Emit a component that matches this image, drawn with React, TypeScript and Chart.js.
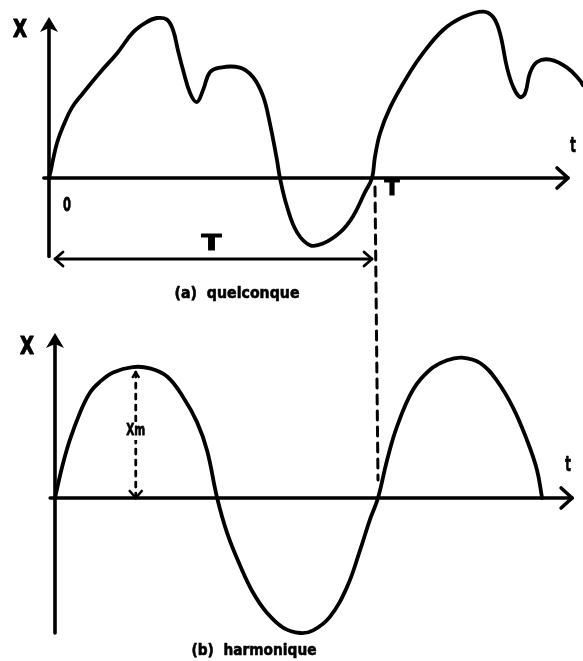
import React, { useEffect, useRef } from "react";
import { Chart, registerables } from "chart.js";

Chart.register(...registerables);

// Time is expressed in periods (t / T), amplitude in arbitrary units.
// (a) arbitrary periodic signal
const generalTime = [
  0, 0.006, 0.012, 0.025, 0.043, 0.071, 0.105, 0.158, 0.211, 0.26, 0.303, 0.334,
  0.365, 0.384, 0.399, 0.415, 0.437, 0.458, 0.477, 0.498, 0.529, 0.591, 0.632,
  0.663, 0.684, 0.706, 0.715, 0.737, 0.768, 0.808, 0.848, 0.901, 0.941, 0.978,
  1.0, 1.009, 1.025, 1.056, 1.108, 1.158, 1.22, 1.282, 1.344, 1.375, 1.396, 1.418,
  1.437, 1.458, 1.474, 1.489, 1.511, 1.551, 1.604, 1.644, 1.653,
];
const generalValue = [
  0, 0.05, 0.11, 0.22, 0.32, 0.44, 0.53, 0.66, 0.78, 0.91, 0.975, 1.0,
  0.99, 0.925, 0.8, 0.675, 0.53, 0.475, 0.55, 0.66, 0.69, 0.69, 0.63,
  0.51, 0.34, 0.11, 0, -0.18, -0.34, -0.42, -0.41, -0.34, -0.24, -0.09,
  0, 0.13, 0.28, 0.44, 0.63, 0.78, 0.925, 1.006, 1.04, 1.006, 0.906, 0.69,
  0.57, 0.506, 0.53, 0.656, 0.725, 0.74, 0.69, 0.61, 0.58,
];

// (b) harmonic signal
const harmonicTime = [
  0, 0.022, 0.046, 0.077, 0.108, 0.139, 0.18, 0.241, 0.294, 0.347, 0.396, 0.44,
  0.471, 0.502, 0.533, 0.573, 0.613, 0.656, 0.706, 0.759, 0.799, 0.851, 0.904,
  0.944, 0.975, 1.0, 1.028, 1.059, 1.108, 1.161, 1.214, 1.26, 1.316, 1.368,
  1.418, 1.461, 1.492, 1.508,
];
const harmonicValue = [
  0, 0.23, 0.43, 0.63, 0.78, 0.86, 0.93, 0.97, 0.96, 0.9, 0.75, 0.56,
  0.35, 0, -0.26, -0.5, -0.7, -0.85, -0.96, -1.0, -0.98, -0.88, -0.66,
  -0.39, -0.16, 0, 0.28, 0.53, 0.8, 0.95, 1.02, 1.04, 1.0, 0.87,
  0.67, 0.43, 0.21, 0,
];

// amplitude Xm marked on the first crest, at a quarter period
const amplitudeXm = 0.97;
const amplitudeTime = 0.25;
const period = 1;

const timeMarks = ["0", "T"];
const axisNames = ["X", "t"];
const captions = ["(a)  quelconque", "(b)  harmonique"];
const amplitudeLabel = "Xm";

const W = 583;
const H = 661;
const INK = "#000";

// pixel frame of each panel: origin and pixels per unit
const TOP = { ox: 49, oy: 178, perT: 323, perUnit: 160 };
const BOT = { ox: 55, oy: 498, perT: 323, perUnit: 135 };

const xRange = (p: typeof TOP) => ({ min: -p.ox / p.perT, max: (W - p.ox) / p.perT });
const yRange = (p: typeof TOP) => ({ min: (p.oy - H) / p.perUnit, max: p.oy / p.perUnit });

function pts(ts: number[], vs: number[]) {
  return ts.map((t, i) => ({ x: t, y: vs[i] }));
}

// heavy lettering: filled glyph plus a thin outline, optionally squeezed to a width
function text(
  ctx: CanvasRenderingContext2D,
  s: string,
  x: number,
  y: number,
  font: string,
  width?: number,
  outline = 0
) {
  ctx.save();
  ctx.font = font;
  ctx.textAlign = "center";
  ctx.textBaseline = "middle";
  ctx.translate(x, y);
  if (width) {
    const m = ctx.measureText(s).width;
    ctx.scale(width / m, 1);
  }
  ctx.fillText(s, 0, 0);
  if (outline > 0) {
    ctx.lineWidth = outline;
    ctx.lineJoin = "round";
    ctx.strokeText(s, 0, 0);
  }
  ctx.restore();
}

function line(ctx: CanvasRenderingContext2D, x1: number, y1: number, x2: number, y2: number, w: number, dash: number[] = []) {
  ctx.save();
  ctx.lineWidth = w;
  ctx.setLineDash(dash);
  ctx.beginPath();
  ctx.moveTo(x1, y1);
  ctx.lineTo(x2, y2);
  ctx.stroke();
  ctx.restore();
}

// solid head pointing up
function headUp(ctx: CanvasRenderingContext2D, x: number, y: number) {
  ctx.beginPath();
  ctx.moveTo(x, y);
  ctx.lineTo(x + 9, y + 15);
  ctx.lineTo(x, y + 11);
  ctx.lineTo(x - 9, y + 15);
  ctx.closePath();
  ctx.fill();
}

// open chevron heads
function chevronX(ctx: CanvasRenderingContext2D, x: number, y: number, dir: number, back: number, half: number, w: number) {
  ctx.save();
  ctx.lineWidth = w;
  ctx.beginPath();
  ctx.moveTo(x - dir * back, y - half);
  ctx.lineTo(x, y);
  ctx.lineTo(x - dir * back, y + half);
  ctx.stroke();
  ctx.restore();
}
function chevronY(ctx: CanvasRenderingContext2D, x: number, y: number, dir: number, back: number, half: number, w: number) {
  ctx.save();
  ctx.lineWidth = w;
  ctx.beginPath();
  ctx.moveTo(x - half, y - dir * back);
  ctx.lineTo(x, y);
  ctx.lineTo(x + half, y - dir * back);
  ctx.stroke();
  ctx.restore();
}

const annotations = {
  id: "annotations",
  afterDatasetsDraw(chart: any) {
    const ctx: CanvasRenderingContext2D = chart.ctx;
    const { xT, yT, xB, yB } = chart.scales;
    ctx.save();
    ctx.strokeStyle = INK;
    ctx.fillStyle = INK;
    ctx.lineCap = "round";
    ctx.lineJoin = "round";

    // ---- panel (a) ----
    const ax0 = xT.getPixelForValue(0);
    const ay0 = yT.getPixelForValue(0);
    const aTipY = yT.getPixelForValue(1.006);
    const aBottom = yT.getPixelForValue(-0.49);
    line(ctx, ax0, aBottom, ax0, aTipY + 10, 3.6);
    headUp(ctx, ax0, aTipY);
    const aRight = xT.getPixelForValue(1.607);
    line(ctx, xT.getPixelForValue(-0.016), ay0, aRight, ay0, 3.6);
    chevronX(ctx, aRight, ay0, 1, 11, 10, 3.6);

    text(ctx, axisNames[0], ax0 - 29, aTipY + 14, "bold 24px 'DejaVu Sans'", 14, 1.2);
    text(ctx, axisNames[1], aRight + 5, ay0 - 32, "bold 22px 'DejaVu Sans'", 6, 0.6);
    text(ctx, timeMarks[0], ax0 + 18, ay0 + 28, "bold 19px 'DejaVu Sans'", 8, 0.8);
    const aT = xT.getPixelForValue(period);
    text(ctx, timeMarks[1], aT + 20, ay0 + 11, "bold 22px 'DejaVu Sans'", 15, 1);

    // period span T
    const spanY = ay0 + 81;
    line(ctx, ax0 + 6, spanY, aT, spanY, 2.8);
    chevronX(ctx, ax0 + 6, spanY, -1, 8, 7, 2.8);
    chevronX(ctx, aT, spanY, 1, 8, 7, 2.8);
    text(ctx, timeMarks[1], (ax0 + aT) / 2 + 1, spanY - 14, "bold 21px 'DejaVu Sans'", 20, 1);

    text(ctx, captions[0], 237, 294, "bold 15px 'DejaVu Sans'", 125, 0.6);

    // ---- panel (b) ----
    const bx0 = xB.getPixelForValue(0);
    const by0 = yB.getPixelForValue(0);
    const bTipY = yB.getPixelForValue(1.222);
    const bBottom = yB.getPixelForValue(-1.0);
    line(ctx, bx0, bBottom, bx0, bTipY + 10, 3.6);
    headUp(ctx, bx0, bTipY);
    const bRight = xB.getPixelForValue(1.601);
    line(ctx, xB.getPixelForValue(-0.015), by0, bRight, by0, 3.6);
    chevronX(ctx, bRight, by0, 1, 11, 10, 3.6);

    text(ctx, axisNames[0], bx0 - 28, bTipY + 15, "bold 24px 'DejaVu Sans'", 14, 1.2);
    text(ctx, axisNames[1], bRight - 4, by0 - 33, "bold 22px 'DejaVu Sans'", 6, 0.6);

    // amplitude Xm
    const mx = xB.getPixelForValue(amplitudeTime);
    const mTop = yB.getPixelForValue(amplitudeXm) + 5;
    line(ctx, mx, mTop, mx, by0, 2.8, [5, 6]);
    chevronY(ctx, mx, mTop, -1, 5, 3, 2.4);
    chevronY(ctx, mx, by0, 1, 7, 6, 2.6);
    const labelY = (mTop + by0) / 2 - 4;
    ctx.fillStyle = "#fff";
    ctx.fillRect(mx - 12, labelY - 9, 24, 18);
    ctx.fillStyle = INK;
    text(ctx, amplitudeLabel, mx, labelY, "bold 15px 'DejaVu Sans'", 19, 0.8);

    // the two periods coincide
    const bT = xB.getPixelForValue(period);
    line(ctx, aT + 3, ay0 + 9, bT, by0 - 18, 3, [9, 7]);

    text(ctx, captions[1], 254, 651, "bold 15px 'DejaVu Sans'", 125, 0.6);

    ctx.restore();
  },
};

export default function App() {
  const ref = useRef<HTMLCanvasElement | null>(null);

  useEffect(() => {
    const canvas = ref.current;
    if (!canvas) return;
    const hidden = { type: "linear" as const, display: false };
    const curve = {
      borderColor: INK,
      borderWidth: 3.8,
      pointRadius: 0,
      tension: 0.4,
      borderCapStyle: "round" as const,
      borderJoinStyle: "round" as const,
      fill: false,
    };
    const chart = new Chart(canvas, {
      type: "line",
      data: {
        datasets: [
          {
            label: "quelconque",
            data: pts(generalTime, generalValue),
            xAxisID: "xT",
            yAxisID: "yT",
            ...curve,
          },
          {
            label: "harmonique",
            data: pts(harmonicTime, harmonicValue),
            xAxisID: "xB",
            yAxisID: "yB",
            ...curve,
          },
        ],
      },
      options: {
        animation: false,
        responsive: false,
        events: [],
        layout: { padding: 0 },
        plugins: { legend: { display: false }, tooltip: { enabled: false } },
        scales: {
          xT: { ...hidden, position: "bottom", ...xRange(TOP) },
          yT: { ...hidden, position: "left", ...yRange(TOP) },
          xB: { ...hidden, position: "bottom", ...xRange(BOT) },
          yB: { ...hidden, position: "left", ...yRange(BOT) },
        },
      },
      plugins: [annotations],
    });
    return () => chart.destroy();
  }, []);

  return (
    <div style={{ position: "fixed", left: 0, top: 0, width: W, height: H, background: "#fff" }}>
      <canvas ref={ref} width={W} height={H} style={{ display: "block" }} />
    </div>
  );
}
